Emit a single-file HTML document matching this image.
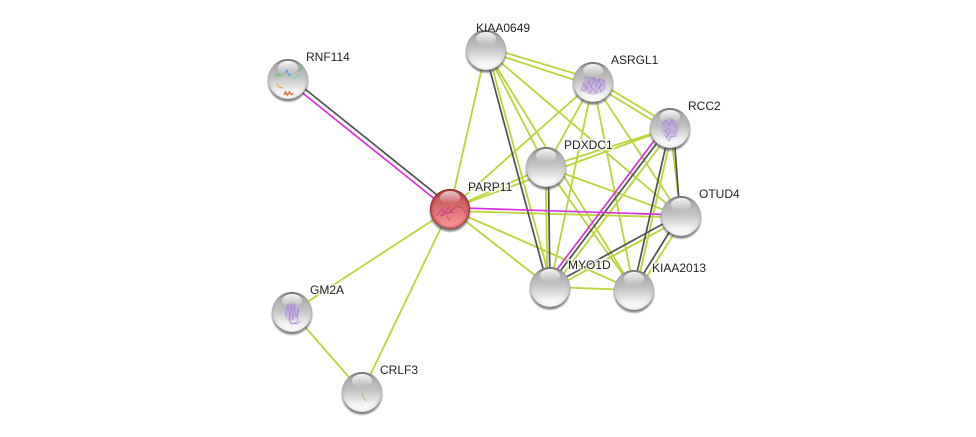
<!DOCTYPE html>
<html><head><meta charset="utf-8"><style>
html,body{margin:0;padding:0;background:#fff;width:976px;height:437px;overflow:hidden}
svg{display:block}
text{font-family:"Liberation Sans",sans-serif;font-size:12px;fill:#222;paint-order:stroke;stroke:rgba(255,255,255,.8);stroke-width:3px;stroke-linejoin:round}
text.n{stroke:none}
.g line{stroke:#b8d53a;stroke-width:1.8}
.k line{stroke:#505050;stroke-width:1.7}
.m line{stroke:#dd30dd;stroke-width:1.7}
.p{fill:none;stroke-width:.7}
</style></head><body>
<svg width="976" height="437" viewBox="0 0 976 437" xmlns="http://www.w3.org/2000/svg">
<defs>
<linearGradient id="b" x1="0" y1="0" x2="0" y2="1"><stop offset="0" stop-color="#a2a2a2"/><stop offset=".45" stop-color="#c2c2c2"/><stop offset=".82" stop-color="#f4f4f4"/><stop offset="1" stop-color="#fff"/></linearGradient>
<linearGradient id="r" x1="0" y1="0" x2="0" y2="1"><stop offset="0" stop-color="#b84a4d"/><stop offset=".45" stop-color="#d66a6d"/><stop offset=".85" stop-color="#f58f92"/><stop offset="1" stop-color="#f8a0a2"/></linearGradient>
<radialGradient id="e" cx=".5" cy=".5" r=".5"><stop offset=".8" stop-color="#777" stop-opacity="0"/><stop offset=".95" stop-color="#777" stop-opacity=".1"/><stop offset="1" stop-color="#666" stop-opacity=".28"/></radialGradient>
<radialGradient id="er" cx=".5" cy=".5" r=".5"><stop offset=".78" stop-color="#700" stop-opacity="0"/><stop offset=".93" stop-color="#700" stop-opacity=".25"/><stop offset="1" stop-color="#600" stop-opacity=".75"/></radialGradient>
<linearGradient id="t" x1="0" y1="0" x2="0" y2="1"><stop offset="0" stop-color="#555" stop-opacity=".6"/><stop offset=".16" stop-color="#555" stop-opacity="0"/></linearGradient>
<linearGradient id="h" x1="0" y1="0" x2="0" y2="1"><stop offset="0" stop-color="#fff" stop-opacity=".95"/><stop offset="1" stop-color="#fff" stop-opacity="0"/></linearGradient>
<radialGradient id="s" cx=".5" cy=".5" r=".5"><stop offset=".86" stop-color="#444" stop-opacity=".7"/><stop offset="1" stop-color="#444" stop-opacity="0"/></radialGradient>
<g id="n"><circle cx="0" cy="2.5" r="21.5" fill="url(#s)"/><circle r="20" fill="url(#b)"/><circle r="20" fill="url(#e)"/><circle r="20" fill="url(#t)"/><ellipse cy="-11.5" rx="10" ry="6.5" fill="url(#h)"/></g>
<g id="nr"><circle cx="0" cy="2.5" r="21.5" fill="url(#s)"/><circle r="20" fill="url(#r)"/><circle r="20" fill="url(#er)"/><ellipse cy="-11.5" rx="10" ry="6.5" fill="url(#h)" opacity=".75"/></g>
</defs>

<g class="g">
<line x1="486" y1="50" x2="450" y2="209"/>
<line x1="486" y1="47" x2="593" y2="79"/><line x1="486" y1="51" x2="593" y2="86"/>
<line x1="486" y1="50" x2="546" y2="167"/>
<line x1="487.5" y1="50" x2="552" y2="287"/>
<line x1="486" y1="50" x2="634" y2="290"/>
<line x1="486" y1="50" x2="681" y2="216"/>
<line x1="593" y1="82" x2="450" y2="209"/>
<line x1="593" y1="82" x2="546" y2="167"/>
<line x1="593" y1="82" x2="550" y2="287"/>
<line x1="593" y1="82" x2="634" y2="290"/>
<line x1="593" y1="82" x2="681" y2="216"/>
<line x1="593" y1="79" x2="670" y2="125"/><line x1="593" y1="84" x2="670" y2="131"/>
<line x1="546" y1="167" x2="670" y2="128"/>
<line x1="450" y1="209" x2="670" y2="128"/>
<line x1="672" y1="130" x2="552" y2="289"/>
<line x1="673" y1="128" x2="636" y2="290"/>
<line x1="670" y1="128" x2="681" y2="216"/>
<line x1="546" y1="167" x2="450" y2="209"/>
<line x1="546" y1="167" x2="681" y2="216"/>
<line x1="545.5" y1="167" x2="547.5" y2="287"/>
<line x1="546" y1="167" x2="634" y2="290"/>
<line x1="450" y1="211" x2="681" y2="217.5"/>
<line x1="450" y1="209" x2="550" y2="287"/>
<line x1="450" y1="209" x2="634" y2="290"/>
<line x1="450" y1="209" x2="292" y2="312"/>
<line x1="450" y1="209" x2="362" y2="392"/>
<line x1="292" y1="312" x2="362" y2="392"/>
<line x1="550" y1="290" x2="681" y2="219"/>
<line x1="550" y1="287" x2="634" y2="290"/>
<line x1="637" y1="292" x2="684" y2="218"/>
</g>
<g class="k">
<line x1="484.6" y1="50" x2="548" y2="287"/>
<line x1="548.3" y1="167" x2="550" y2="287"/>
<line x1="669" y1="127" x2="549" y2="286"/>
<line x1="670" y1="128" x2="633" y2="290"/>
<line x1="673.5" y1="128" x2="680" y2="216"/>
<line x1="550" y1="286" x2="681" y2="214"/>
<line x1="634" y1="289" x2="680" y2="215"/>
<line x1="290" y1="77" x2="452" y2="207"/>
</g>
<g class="m">
<line x1="287" y1="80.500" x2="449" y2="210.500"/>
<line x1="450" y1="207.600" x2="681" y2="215"/>
<line x1="666" y1="125" x2="546" y2="284"/>
</g>

<use href="#n" x="486" y="50"/>
<use href="#n" x="593" y="82"/>
<use href="#n" x="670" y="128"/>
<use href="#n" x="546" y="167"/>
<use href="#n" x="681" y="216"/>
<use href="#n" x="550" y="287"/>
<use href="#n" x="634" y="290"/>
<use href="#n" x="288" y="79"/>
<use href="#n" x="292" y="312"/>
<use href="#n" x="362" y="392"/>
<use href="#nr" x="450" y="209"/>

<ellipse cx="593" cy="86" rx="11" ry="9" fill="#b48ddb" opacity=".35"/>
<path class="p" stroke="#a77fd6" d="M581 90l3-7 2 6 3-9 2 8 3-10 2 9 3-8 2 8 3-7 1 8-4 4-2-6-3 7-3-5-3 5-3-6-3 4zM584 78h8l5 3 4-2 4 3"/>
<ellipse cx="670" cy="128" rx="9" ry="10" fill="#b48ddb" opacity=".4"/>
<path class="p" stroke="#ac84d8" d="M663 124l3-4 3 5 3-5 3 6 2 4-4 2 3 4-5 1-2 4-3-4 3-3-4-3 3-3 3 4-3 2"/>
<ellipse cx="291" cy="312" rx="7" ry="9" fill="#b48ddb" opacity=".3"/>
<path class="p" stroke="#ab80da" d="M286 316l2-12 2 15 1-16 2 17 1-18 2 15 3-9-2 14-5 2-3-4 1-6M290 323l7 1 4-3"/>
<path fill="none" stroke-width="1.1" stroke="#63bd6e" d="M275 76l3-2 2 2 3-2M299 63l3 5-3 3"/>
<path fill="none" stroke-width="1.1" stroke="#5b9fe0" d="M285 74l2-4 2 6 2-2"/>
<path fill="none" stroke-width="1.1" stroke="#6fd6bc" d="M292 77l3 1 3-2 3-1"/>
<path fill="none" stroke-width="1.2" stroke="#dcbb4c" d="M277 83l2 4 4 1"/>
<path fill="none" stroke-width="1.6" stroke="#d9774c" d="M284 95l1.500-3 2 3 2-3 2 2.500 2-1"/>
<path class="p" stroke="#8fd0c0" d="M359 379l2 8 1 6"/>
<path class="p" stroke="#a0a860" d="M362 393l2 5 2 3"/>
<path class="p" stroke="#c83a86" d="M437 216l5-7 2 4 5-6 1 4 5-4-5 6-6-2-3 5 7-3 6-1"/>
<path class="p" stroke="#a84c55" stroke-width=".4" d="M456 206l7 2 2 5M447 216l3 5"/>

<text class="n" x="476" y="32">KIAA0649</text>
<text x="611" y="64">ASRGL1</text>
<text x="688" y="110">RCC2</text>
<text x="564" y="149">PDXDC1</text>
<text x="468" y="191">PARP11</text>
<text x="699" y="198">OTUD4</text>
<text x="568" y="269">MYO1D</text>
<text x="652" y="272">KIAA2013</text>
<text x="306" y="61">RNF114</text>
<text x="310" y="294">GM2A</text>
<text x="380" y="374">CRLF3</text>
</svg>
</body></html>
